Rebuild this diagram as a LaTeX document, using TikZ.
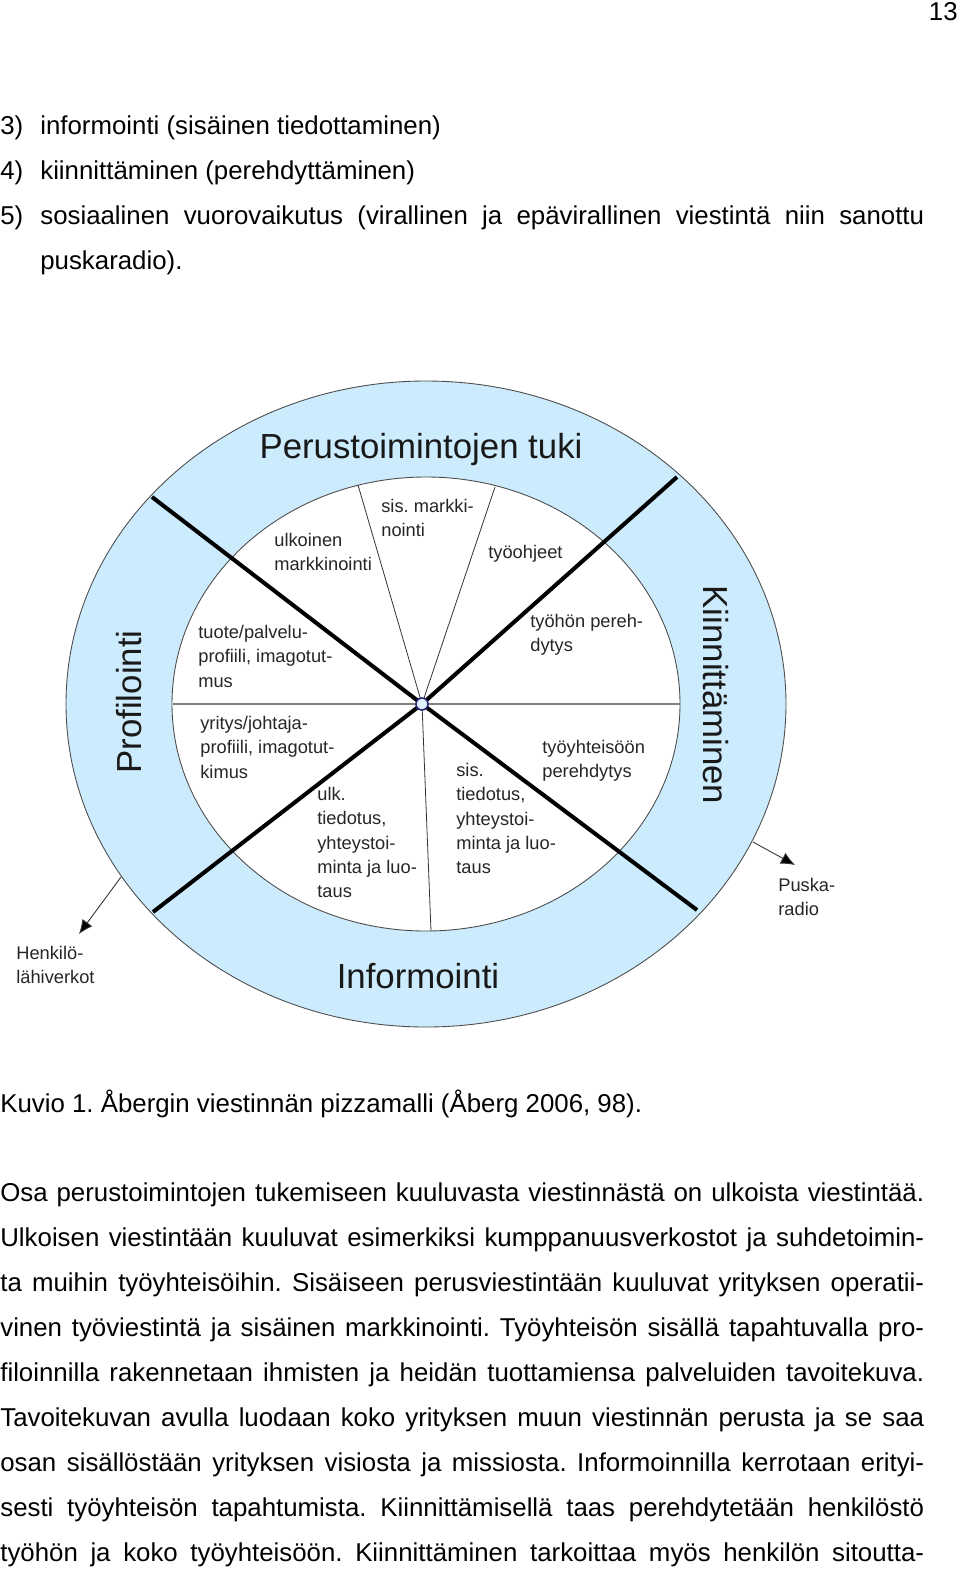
\documentclass[tikz,border=0pt]{standalone}
\usepackage{fontspec}
\setmainfont{Liberation Sans}
\usetikzlibrary{arrows,arrows.meta}

\newcommand{\pagefont}{\fontsize{14.7pt}{18pt}\selectfont}
\newcommand{\ringfont}{\fontsize{19.8pt}{24pt}\selectfont}
\newcommand{\labfont}{\fontsize{10.4pt}{13.8pt}\selectfont}
\definecolor{ringblue}{RGB}{204,235,252}

\tikzset{
	txt/.style={anchor=base west, inner sep=0pt, font=\pagefont},
	ring/.style={anchor=base, inner sep=0pt, font=\ringfont, text=black!90},
	lab/.style={anchor=north west, inner sep=0pt, align=left, font=\labfont, text=black!85},
	bigcut/.style={line width=2.3pt},
	smallcut/.style={line width=0.45pt, black!80},
	pointer/.style={-{Latex[length=8pt,width=7pt,fill=black]}, black!80, line width=0.5pt},
}

\begin{document}
\frenchspacing
\begin{tikzpicture}[x=0.02cm,y=-0.02cm]
	\useasboundingbox (0,0) rectangle (960,1569);
	% page text above the figure
	\node[txt, anchor=base east] (page) at (958,20) {13};
	\node[txt] (n3) at (0,134) {3)};
	\node[txt] (i3) at (40,134) {informointi (sis\"ainen tiedottaminen)};
	\node[txt] (n4) at (0,179) {4)};
	\node[txt] (i4) at (40,179) {kiinnitt\"aminen (perehdytt\"aminen)};
	\node[txt] (n5) at (0,224) {5)};
	\node[txt] (i5) at (40,224) {\makebox[17.68cm][s]{sosiaalinen vuorovaikutus (virallinen ja ep\"avirallinen viestint\"a niin sanottu}};
	\node[txt] (i5b) at (40,269) {puskaradio).};

	% the pizza
	\coordinate (mid) at (426,704);
	\fill[ringblue] (mid) ellipse [x radius=360, y radius=323];
	\fill[white] (mid) ellipse [x radius=254, y radius=227];
	\draw[black!70, line width=0.5pt] (mid) ellipse [x radius=360, y radius=323];
	\draw[black!70, line width=0.5pt] (mid) ellipse [x radius=254, y radius=227];

	\coordinate (c) at (422,704);
	\coordinate (hl) at (173,704);
	\coordinate (hr) at (680,704);
	\coordinate (s1) at (358,485);
	\coordinate (s2) at (495,487);
	\coordinate (s3) at (431,931);
	\coordinate (ul) at (152,497);
	\coordinate (lr) at (697,910);
	\coordinate (ur) at (677,477);
	\coordinate (ll) at (153,912);

	\draw[gray, line width=1.3pt] (hl)--(hr);
	\draw[smallcut] (c)--(s1);
	\draw[smallcut] (c)--(s2);
	\draw[smallcut] (c)--(s3);
	\draw[bigcut] (c)--(ul);
	\draw[bigcut] (c)--(lr);
	\draw[bigcut] (c)--(ur);
	\draw[bigcut] (c)--(ll);
	\draw[gray!50!blue!60!black, line width=0.9pt, fill=ringblue!60] (c) circle (6);

	% ring texts
	\node[ring] (tuki) at (421,458) {Perustoimintojen tuki};
	\node[ring] (info) at (418,988) {Informointi};
	\node[ring, rotate=90] (prof) at (141,702) {Profilointi};
	\node[ring, rotate=-90] (kiin) at (703,695) {Kiinnitt\"aminen};

	% slice texts
	\node[lab] (ulkm) at (274,533) {ulkoinen\\markkinointi};
	\node[lab] (sism) at (381,499) {sis. markki-\\nointi};
	\node[lab] (ohje) at (488,545) {ty\"oohjeet};
	\node[lab] (pere) at (530,614) {ty\"oh\"on pereh-\\dytys};
	\node[lab] (tuot) at (198,625) {tuote/palvelu-\\profiili, imagotut-\\mus};
	\node[lab] (yrit) at (200,716) {yritys/johtaja-\\profiili, imagotut-\\kimus};
	\node[lab] (ulkt) at (317,787) {ulk.\\tiedotus,\\yhteystoi-\\minta ja luo-\\taus};
	\node[lab] (sist) at (456,763) {sis.\\tiedotus,\\yhteystoi-\\minta ja luo-\\taus};
	\node[lab] (yhte) at (542,740) {ty\"oyhteis\"o\"on\\perehdytys};

	% outside
	\node[lab] (henk) at (16,946) {Henkil\"o-\\l\"ahiverkot};
	\node[lab] (pusk) at (778,878) {Puska-\\radio};
	\coordinate (hs) at (121,877);
	\coordinate (he) at (79,934);
	\coordinate (ps) at (753,842);
	\coordinate (pe) at (795,865);
	\draw [pointer](hs)--(he);
	\draw [pointer](ps)--(pe);

	% caption and text below
	\node[txt] (cap) at (0,1112) {Kuvio 1. \AA bergin viestinn\"an pizzamalli (\AA berg 2006, 98).};
	\node[txt] (p1) at (0,1201) {\makebox[18.48cm][s]{Osa perustoimintojen tukemiseen kuuluvasta viestinn\"ast\"a on ulkoista viestint\"a\"a.}};
	\node[txt] (p2) at (0,1246) {\makebox[18.48cm][s]{Ulkoisen viestint\"a\"an kuuluvat esimerkiksi kumppanuusverkostot ja suhdetoimin-}};
	\node[txt] (p3) at (0,1291) {\makebox[18.48cm][s]{ta muihin ty\"oyhteis\"oihin. Sis\"aiseen perusviestint\"a\"an kuuluvat yrityksen operatii-}};
	\node[txt] (p4) at (0,1336) {\makebox[18.48cm][s]{vinen ty\"oviestint\"a ja sis\"ainen markkinointi. Ty\"oyhteis\"on sis\"all\"a tapahtuvalla pro-}};
	\node[txt] (p5) at (0,1381) {\makebox[18.48cm][s]{filoinnilla rakennetaan ihmisten ja heid\"an tuottamiensa palveluiden tavoitekuva.}};
	\node[txt] (p6) at (0,1426) {\makebox[18.48cm][s]{Tavoitekuvan avulla luodaan koko yrityksen muun viestinn\"an perusta ja se saa}};
	\node[txt] (p7) at (0,1471) {\makebox[18.48cm][s]{osan sis\"all\"ost\"a\"an yrityksen visiosta ja missiosta. Informoinnilla kerrotaan erityi-}};
	\node[txt] (p8) at (0,1516) {\makebox[18.48cm][s]{sesti ty\"oyhteis\"on tapahtumista. Kiinnitt\"amisell\"a taas perehdytet\"a\"an henkil\"ost\"o}};
	\node[txt] (p9) at (0,1561) {\makebox[18.48cm][s]{ty\"oh\"on ja koko ty\"oyhteis\"o\"on. Kiinnitt\"aminen tarkoittaa my\"os henkil\"on sitoutta-}};
\end{tikzpicture}
\end{document}
